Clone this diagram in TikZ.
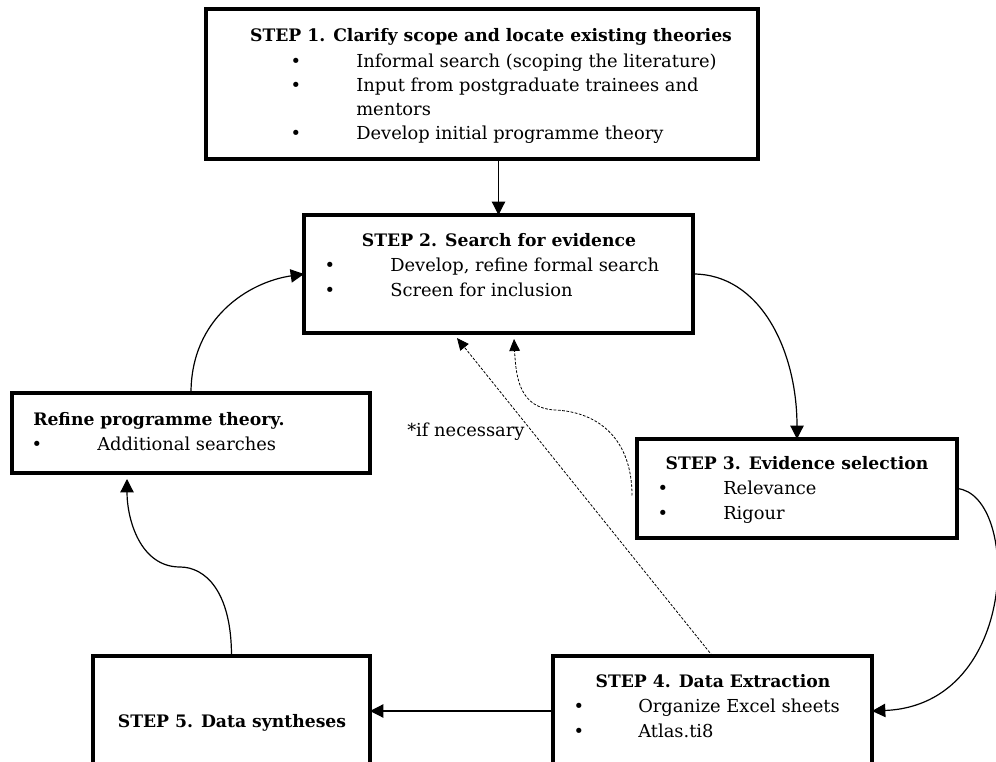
\documentclass[tikz,border=0pt]{standalone}
\usepackage{fontspec}
\setmainfont{DejaVu Serif}
\usetikzlibrary{arrows.meta,calc}
\begin{document}
\begin{tikzpicture}[x=0.75pt,y=-0.75pt,
  box/.style={draw,line width=2.4pt,inner sep=0pt,outer sep=0pt,anchor=north west},
  txt/.style={anchor=base west,inner sep=0pt,font=\fontsize{13.4}{16}\selectfont},
  bul/.style={anchor=base,inner sep=0pt,font=\fontsize{13.4}{16}\selectfont},
  ttl/.style={anchor=base,inner sep=0pt,font=\fontsize{12.9}{16}\selectfont\bfseries},
  arr/.style={line width=0.9pt,-{Triangle[length=10pt,width=10pt]}},
  darr/.style={line width=0.6pt,dash pattern=on 2pt off 1.2pt,-{Triangle[length=9pt,width=8pt]}}]
\useasboundingbox (0,0) rectangle (996,762);
% boxes
\node[box,minimum width=552*0.75pt,minimum height=150*0.75pt] (b1) at (206,9) {};
\node[box,minimum width=389*0.75pt,minimum height=118*0.75pt] (b2) at (304,215) {};
\node[box,minimum width=358*0.75pt,minimum height=80*0.75pt] (rf) at (12,393) {};
\node[box,minimum width=320*0.75pt,minimum height=99*0.75pt] (b3) at (637,439) {};
\node[box,minimum width=319*0.75pt,minimum height=110*0.75pt] (b4) at (553,656) {};
\node[box,minimum width=277*0.75pt,minimum height=110*0.75pt] (b5) at (93,656) {};
% step 1 text
\node[ttl] (t1) at (491,42) {STEP 1. Clarify scope and locate existing theories};
\node[bul] (t1b1) at (296,68) {•};
\node[txt] (t1a) at (356,68) {Informal search (scoping the literature)};
\node[bul] (t1b2) at (296,92) {•};
\node[txt] (t1c) at (356,92) {Input from postgraduate trainees and};
\node[txt] (t1d) at (356,116) {mentors};
\node[bul] (t1b3) at (296,140) {•};
\node[txt] (t1e) at (356,140) {Develop initial programme theory};
% step 2 text
\node[ttl] (t2) at (499,247) {STEP 2. Search for evidence};
\node[bul] (t2b1) at (330,272) {•};
\node[txt] (t2a) at (390,272) {Develop, refine formal search};
\node[bul] (t2b2) at (330,297) {•};
\node[txt] (t2c) at (390,297) {Screen for inclusion};
% refine text
\node[ttl,anchor=base west] (tr) at (33,426) {Refine programme theory.};
\node[bul] (trb) at (37,451) {•};
\node[txt] (tra) at (97,451) {Additional searches};
% step 3 text
\node[ttl] (t3) at (797,470) {STEP 3. Evidence selection};
\node[bul] (t3b1) at (663,495) {•};
\node[txt] (t3a) at (723,495) {Relevance};
\node[bul] (t3b2) at (663,520) {•};
\node[txt] (t3c) at (723,520) {Rigour};
% step 4 text
\node[ttl] (t4) at (713,687) {STEP 4. Data Extraction};
\node[bul] (t4b1) at (579,712) {•};
\node[txt] (t4a) at (638,712) {Organize Excel sheets};
\node[bul] (t4b2) at (579,737) {•};
\node[txt] (t4c) at (638,737) {Atlas.ti8};
% step 5 text
\node[ttl] (t5) at (232,727) {STEP 5. Data syntheses};
% note
\node[txt] (note) at (407,437) {*if necessary};
% connectors
\draw[arr] (b1.south -| b2.north) -- (b2.north);
\draw[arr] (b2.east) .. controls +(67,0) and +(0,-89) .. (b3.north);
\draw[arr] (b3.east) .. controls +(63,6) and +(148,-6) .. (b4.east);
\draw[arr] (b4.west) -- (b5.east);
\coordinate (m1) at (180,567);
\draw[arr] (b5.north) .. controls +(0,-65) and +(25,0) .. (m1) .. controls +(-40,0) and +(0,40) .. ($(rf.south west)+(115,6)$);
\draw[arr] (rf.north) .. controls +(0,-75) and +(-55,8) .. (b2.west);
\draw[darr] (b4.north) -- ($(b2.south west)+(153,5)$);
\coordinate (dstart) at ($(b3.west)+(-5,7)$);
\coordinate (dmid) at (555,410);
\draw[darr] (dstart) .. controls +(0,-55) and +(45,2) .. (dmid) .. controls +(-35,-2) and +(2,40) .. ($(b2.south west)+(210,6)$);
\end{tikzpicture}
\end{document}
